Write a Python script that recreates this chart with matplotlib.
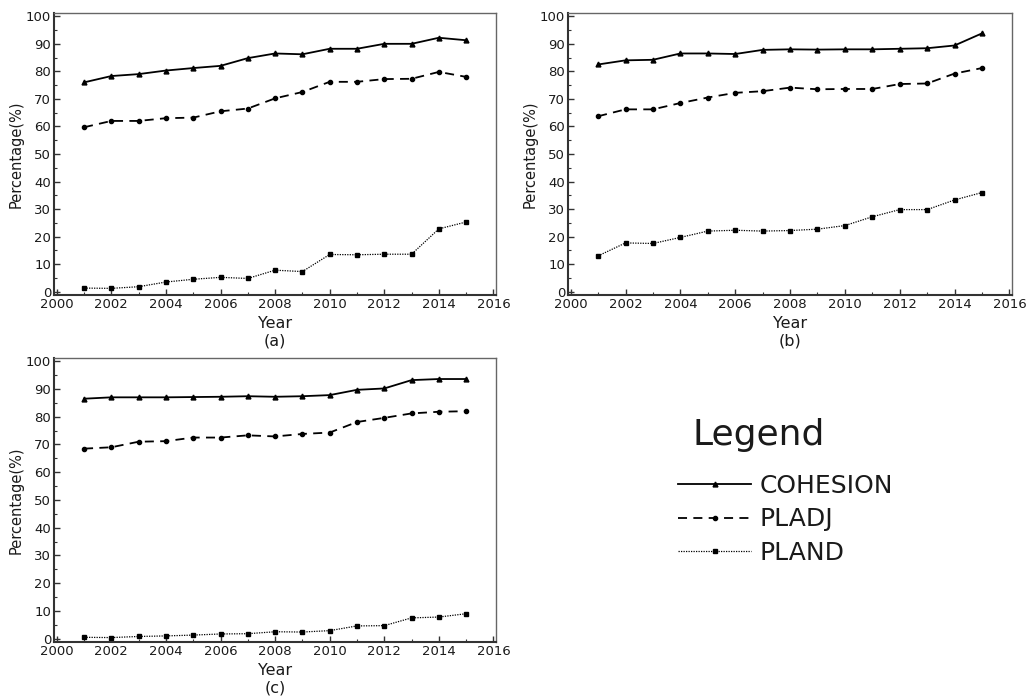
import matplotlib
matplotlib.use('Agg')
import matplotlib.pyplot as plt
from matplotlib.ticker import MultipleLocator

plt.rcParams['font.family'] = ['DejaVu Sans']

years = list(range(2001, 2016))

# panel (a)
cohesion_a = [76.0, 78.3, 79.0, 80.3, 81.2, 82.0, 84.8, 86.5, 86.2, 88.2, 88.2, 90.0, 90.0, 92.2, 91.3]
pladj_a = [59.7, 62.0, 62.0, 63.0, 63.2, 65.5, 66.5, 70.2, 72.5, 76.2, 76.2, 77.2, 77.3, 79.8, 78.0]
pland_a = [1.3, 1.2, 1.8, 3.5, 4.5, 5.2, 4.8, 7.8, 7.3, 13.5, 13.4, 13.6, 13.6, 22.8, 25.3]

# panel (b)
cohesion_b = [82.5, 84.0, 84.2, 86.5, 86.5, 86.3, 87.8, 88.0, 87.9, 88.0, 88.0, 88.2, 88.4, 89.4, 93.8]
pladj_b = [63.7, 66.2, 66.2, 68.5, 70.5, 72.2, 72.8, 74.1, 73.5, 73.6, 73.6, 75.4, 75.6, 79.2, 81.2]
pland_b = [13.0, 17.7, 17.5, 19.7, 22.0, 22.3, 22.0, 22.2, 22.7, 24.0, 27.2, 29.8, 29.8, 33.3, 36.0]

# panel (c)
cohesion_c = [86.5, 87.0, 87.0, 87.0, 87.1, 87.2, 87.4, 87.2, 87.4, 87.8, 89.7, 90.2, 93.2, 93.6, 93.6]
pladj_c = [68.5, 69.0, 71.0, 71.2, 72.5, 72.5, 73.3, 72.9, 73.8, 74.3, 78.1, 79.6, 81.2, 81.8, 82.0]
pland_c = [0.5, 0.4, 0.8, 1.0, 1.3, 1.7, 1.8, 2.5, 2.4, 2.9, 4.6, 4.7, 7.5, 7.8, 9.0]

panels = [
    ('(a)', cohesion_a, pladj_a, pland_a, [0.0523, 0.5774, 0.428, 0.404]),
    ('(b)', cohesion_b, pladj_b, pland_b, [0.5498, 0.5774, 0.430, 0.404]),
    ('(c)', cohesion_c, pladj_c, pland_c, [0.0523, 0.0802, 0.428, 0.407]),
]

txt = '#1a1a1a'
fig = plt.figure(figsize=(10.33, 6.98), dpi=100)

handles = None
for tag, coh, pla, pld, rect in panels:
    ax = fig.add_axes(rect)
    h1, = ax.plot(years, coh, '-', color='black', lw=1.3, marker='^', ms=3.5, label='COHESION')
    h2, = ax.plot(years, pla, color='black', lw=1.3, marker='o', ms=3, dashes=(5, 3.5), label='PLADJ')
    h3, = ax.plot(years, pld, color='black', lw=0.9, marker='s', ms=3, dashes=(1, 1), label='PLAND')
    if handles is None:
        handles = [h1, h2, h3]
    ax.set_xlim(1999.9, 2016.1)
    ax.set_ylim(-1.2, 101.2)
    ax.xaxis.set_major_locator(MultipleLocator(2))
    ax.xaxis.set_minor_locator(MultipleLocator(1))
    ax.yaxis.set_major_locator(MultipleLocator(10))
    ax.yaxis.set_minor_locator(MultipleLocator(5))
    ax.tick_params(which='both', direction='in', top=False, right=False, colors='#333333',
                   labelcolor=txt, labelsize=9.5, pad=2)
    ax.tick_params(which='major', length=4, width=1)
    ax.tick_params(which='minor', length=2.5, width=0.8)
    for side in ['left', 'bottom']:
        ax.spines[side].set_linewidth(1.5)
        ax.spines[side].set_color('#333333')
    for side in ['top', 'right']:
        ax.spines[side].set_linewidth(1.0)
        ax.spines[side].set_color('#666666')
    ax.set_xlabel('Year\n' + tag, fontsize=11.5, color=txt, labelpad=4, linespacing=1.15)
    ax.set_ylabel('Percentage(%)', fontsize=10.5, color=txt, labelpad=2)

# legend title placed on its own, entries below it
fig.text(0.670, 0.377, 'Legend', fontsize=26, color=txt, ha='left', va='center')
leg = fig.legend(handles=handles, labels=['COHESION', 'PLADJ', 'PLAND'],
                 loc='upper left', bbox_to_anchor=(0.656, 0.321), frameon=False,
                 fontsize=18, handlelength=2.95, handletextpad=0.32, labelspacing=0.38,
                 borderpad=0, borderaxespad=0)
for t in leg.get_texts():
    t.set_color(txt)

fig.savefig('out.png', dpi=100)
